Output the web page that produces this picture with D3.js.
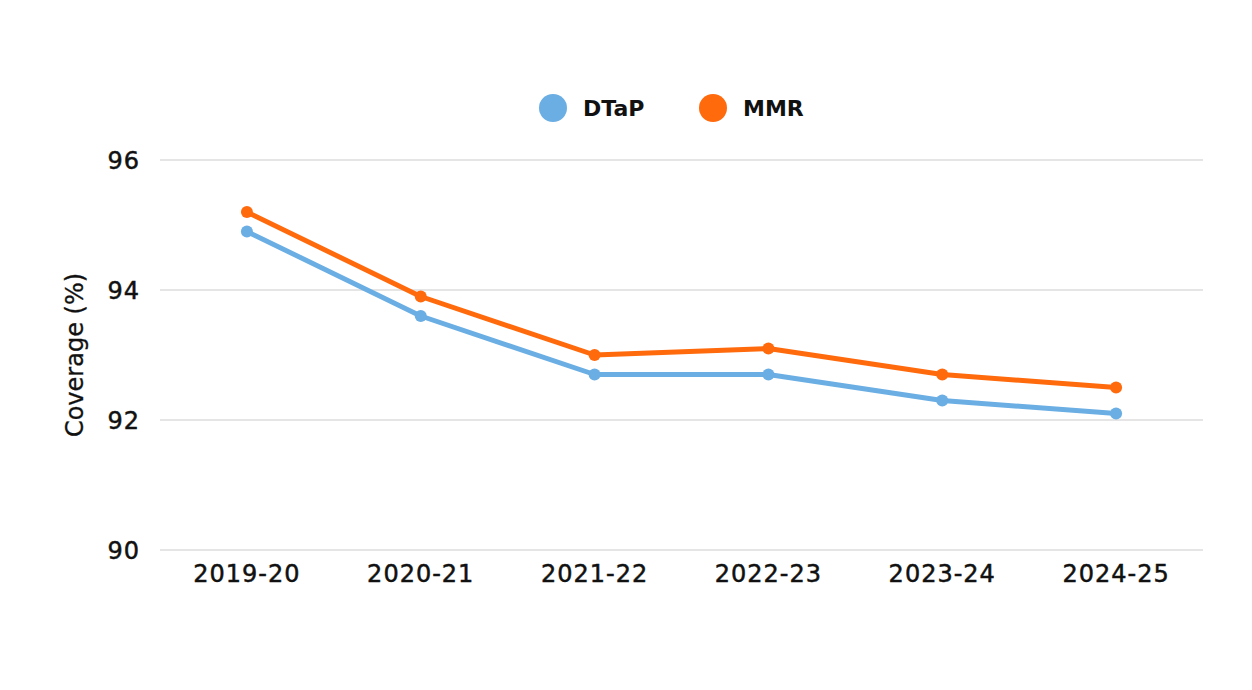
<!DOCTYPE html>
<html>
<head>
<meta charset="utf-8">
<script src="https://cdn.jsdelivr.net/npm/d3@7"></script>
<style>
  body { margin: 0; background: #fff; }
  #root { width: 1252px; height: 690px; }
  text { font-family: "DejaVu Sans", sans-serif; fill: #111; }
</style>
</head>
<body>
<div id="root"></div>
<script>
const years = ['2019-20', '2020-21', '2021-22', '2022-23', '2023-24', '2024-25'];
const dtap = [94.9, 93.6, 92.7, 92.7, 92.3, 92.1];
const mmr = [95.2, 93.9, 93.0, 93.1, 92.7, 92.5];
const yTicks = [90, 92, 94, 96];

const series = [
    { name: 'DTaP', values: dtap, color: '#6aaee4' },
    { name: 'MMR', values: mmr, color: '#ff6a0d' }
];

const root = document.getElementById('root');
const margin = { top: 160, right: 49, bottom: 140, left: 160 };
const width = 1252 - margin.left - margin.right;
const height = 690 - margin.top - margin.bottom;

const svg = d3.select(root)
    .append('svg')
    .attr('width', 1252)
    .attr('height', 690)
    .append('g')
    .attr('transform', `translate(${margin.left}, ${margin.top})`);

// Scales
const x = d3.scaleBand().domain(years).range([0, width]);
const y = d3.scaleLinear().domain([90, 96]).range([height, 0]);

// Grid
svg.selectAll('.grid')
    .data(yTicks)
    .enter()
    .append('line')
    .attr('x1', 0)
    .attr('x2', width)
    .attr('y1', d => y(d))
    .attr('y2', d => y(d))
    .attr('stroke', '#dcdcdc')
    .attr('stroke-width', 1.5);

// Y axis
const yAxis = d3.axisLeft(y).tickValues(yTicks).tickFormat(d3.format('d')).tickSize(0).tickPadding(20);
const gy = svg.append('g').call(yAxis);
gy.select('.domain').remove();
gy.selectAll('text')
    .attr('font-size', 24)
    .attr('letter-spacing', 1)
    .attr('dy', '0.35em')
    .attr('stroke', '#111')
    .attr('stroke-width', 0.5)
    .style('font-family', '"DejaVu Sans", sans-serif')
    .attr('fill', '#111');

// X axis
const xAxis = d3.axisBottom(x).tickSize(0).tickPadding(15);
const gx = svg.append('g').attr('transform', `translate(0,${height})`).call(xAxis);
gx.select('.domain').remove();
gx.selectAll('text')
    .attr('font-size', 24)
    .attr('letter-spacing', 1)
    .attr('stroke', '#111')
    .attr('stroke-width', 0.5)
    .style('font-family', '"DejaVu Sans", sans-serif')
    .attr('fill', '#111');

// Y title
svg.append('text')
    .text('Coverage (%)')
    .attr('text-anchor', 'middle')
    .attr('font-size', 24)
    .attr('stroke', '#111')
    .attr('stroke-width', 0.3)
    .attr('transform', `translate(-77, ${height / 2}) rotate(-90)`);

// Lines
const line = d3.line()
    .x((d, i) => x(years[i]) + x.bandwidth() / 2)
    .y(d => y(d));

series.forEach(s => {
    svg.append('path')
        .datum(s.values)
        .attr('fill', 'none')
        .attr('stroke', s.color)
        .attr('stroke-width', 5)
        .attr('stroke-linejoin', 'round')
        .attr('d', line);
    svg.selectAll(null)
        .data(s.values)
        .enter()
        .append('circle')
        .attr('cx', (d, i) => x(years[i]) + x.bandwidth() / 2)
        .attr('cy', d => y(d))
        .attr('r', 6)
        .attr('fill', s.color);
});

// Legend
const legend = svg.append('g').attr('transform', `translate(0, -52)`);
const legendX = [393, 553];
series.forEach((s, i) => {
    legend.append('circle')
        .attr('cx', legendX[i])
        .attr('cy', 0)
        .attr('r', 14)
        .attr('fill', s.color);
    legend.append('text')
        .text(s.name)
        .attr('x', legendX[i] + 30)
        .attr('y', 0)
        .attr('dy', '0.35em')
        .attr('font-size', 22)
        .attr('font-weight', 'bold');
});
</script>
</body>
</html>
